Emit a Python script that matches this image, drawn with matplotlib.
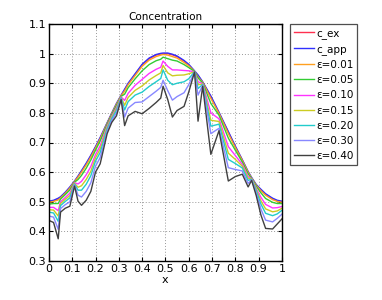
import matplotlib
matplotlib.use("Agg")
import matplotlib.pyplot as plt

x = [0.00, 0.02, 0.04, 0.05, 0.07, 0.09, 0.11, 0.125, 0.14, 0.16, 0.18, 0.20, 0.22, 0.25, 0.27,
     0.29, 0.31, 0.325, 0.34, 0.37, 0.40, 0.43, 0.46, 0.48, 0.49, 0.51, 0.53, 0.55, 0.58, 0.60,
     0.625, 0.64, 0.66, 0.695, 0.73, 0.77, 0.80, 0.83, 0.855, 0.87, 0.89, 0.91, 0.93, 0.96, 0.98, 1.00]

c_ex = [0.500, 0.503, 0.510, 0.515, 0.530, 0.548, 0.568, 0.585, 0.603, 0.628, 0.655, 0.684, 0.715, 0.765, 0.798,
        0.830, 0.858, 0.878, 0.898, 0.930, 0.962, 0.983, 0.995, 0.999, 1.000, 1.000, 0.996, 0.990, 0.975, 0.962,
        0.940, 0.926, 0.903, 0.855, 0.800, 0.735, 0.686, 0.640, 0.600, 0.580, 0.556, 0.540, 0.525, 0.510, 0.503, 0.500]
c_app = [0.502, 0.505, 0.512, 0.517, 0.532, 0.550, 0.570, 0.587, 0.605, 0.630, 0.657, 0.686, 0.717, 0.767, 0.800,
         0.832, 0.860, 0.880, 0.900, 0.932, 0.964, 0.985, 0.997, 1.001, 1.002, 1.002, 0.998, 0.992, 0.977, 0.964,
         0.942, 0.928, 0.905, 0.857, 0.802, 0.737, 0.688, 0.642, 0.602, 0.582, 0.558, 0.542, 0.527, 0.512, 0.505, 0.502]
e001 = [0.498, 0.501, 0.506, 0.513, 0.528, 0.546, 0.568, 0.583, 0.600, 0.624, 0.651, 0.681, 0.712, 0.764, 0.797,
        0.829, 0.858, 0.874, 0.895, 0.926, 0.957, 0.978, 0.990, 0.995, 0.997, 0.995, 0.990, 0.985, 0.970, 0.959,
        0.940, 0.921, 0.903, 0.849, 0.798, 0.730, 0.683, 0.639, 0.599, 0.580, 0.555, 0.537, 0.522, 0.507, 0.501, 0.498]
e005 = [0.492, 0.494, 0.494, 0.509, 0.524, 0.540, 0.566, 0.575, 0.589, 0.613, 0.641, 0.674, 0.705, 0.761, 0.794,
        0.825, 0.856, 0.863, 0.885, 0.915, 0.942, 0.963, 0.976, 0.981, 0.988, 0.983, 0.978, 0.975, 0.963, 0.953,
        0.940, 0.918, 0.901, 0.832, 0.792, 0.715, 0.674, 0.634, 0.594, 0.579, 0.552, 0.530, 0.511, 0.498, 0.494, 0.494]
e010 = [0.481, 0.481, 0.470, 0.500, 0.514, 0.529, 0.564, 0.560, 0.569, 0.591, 0.619, 0.659, 0.689, 0.755, 0.789,
        0.818, 0.854, 0.842, 0.866, 0.893, 0.913, 0.933, 0.947, 0.954, 0.975, 0.957, 0.945, 0.945, 0.943, 0.942,
        0.939, 0.905, 0.899, 0.800, 0.780, 0.686, 0.656, 0.626, 0.585, 0.578, 0.545, 0.515, 0.491, 0.479, 0.480, 0.484]
e015 = [0.473, 0.472, 0.452, 0.494, 0.508, 0.521, 0.562, 0.549, 0.554, 0.575, 0.603, 0.648, 0.678, 0.750, 0.785,
        0.813, 0.852, 0.826, 0.852, 0.876, 0.891, 0.911, 0.926, 0.935, 0.960, 0.935, 0.925, 0.927, 0.928, 0.932,
        0.939, 0.895, 0.897, 0.775, 0.771, 0.664, 0.643, 0.620, 0.579, 0.577, 0.541, 0.503, 0.476, 0.466, 0.469, 0.478]
e020 = [0.465, 0.462, 0.434, 0.487, 0.501, 0.513, 0.560, 0.539, 0.539, 0.559, 0.588, 0.637, 0.666, 0.745, 0.781,
        0.808, 0.851, 0.810, 0.838, 0.860, 0.870, 0.889, 0.905, 0.916, 0.945, 0.910, 0.895, 0.900, 0.905, 0.915,
        0.939, 0.882, 0.896, 0.755, 0.762, 0.643, 0.629, 0.614, 0.572, 0.576, 0.536, 0.492, 0.461, 0.453, 0.459, 0.471]
e030 = [0.452, 0.448, 0.407, 0.477, 0.490, 0.500, 0.557, 0.522, 0.516, 0.535, 0.564, 0.620, 0.649, 0.738, 0.775,
        0.800, 0.848, 0.786, 0.816, 0.835, 0.837, 0.855, 0.873, 0.886, 0.910, 0.875, 0.843, 0.855, 0.868, 0.895,
        0.938, 0.860, 0.893, 0.730, 0.748, 0.615, 0.609, 0.604, 0.562, 0.574, 0.529, 0.475, 0.438, 0.432, 0.444, 0.458]
e040 = [0.437, 0.430, 0.375, 0.465, 0.478, 0.485, 0.553, 0.502, 0.488, 0.505, 0.535, 0.600, 0.628, 0.730, 0.768,
        0.790, 0.845, 0.757, 0.790, 0.805, 0.797, 0.815, 0.835, 0.850, 0.890, 0.845, 0.786, 0.808, 0.822, 0.870,
        0.938, 0.772, 0.890, 0.660, 0.740, 0.570, 0.585, 0.593, 0.550, 0.572, 0.520, 0.455, 0.410, 0.408, 0.425, 0.442]

labels = ["c_ex", "c_app", "ε=0.01", "ε=0.05", "ε=0.10", "ε=0.15", "ε=0.20", "ε=0.30", "ε=0.40"]
series = [c_ex, c_app, e001, e005, e010, e015, e020, e030, e040]
colors = ["#ff3050", "#3030ff", "#ffa020", "#33cc33", "#ff33ff", "#cccc22", "#22cccc", "#8888ff", "#404040"]

xticks = [0, 0.1, 0.2, 0.3, 0.4, 0.5, 0.6, 0.7, 0.8, 0.9, 1]
xticklabels = ["0", "0.1", "0.2", "0.3", "0.4", "0.5", "0.6", "0.7", "0.8", "0.9", "1"]
yticks = [0.3, 0.4, 0.5, 0.6, 0.7, 0.8, 0.9, 1.0, 1.1]
yticklabels = ["0.3", "0.4", "0.5", "0.6", "0.7", "0.8", "0.9", "1", "1.1"]

plt.rcParams['font.family'] = ['DejaVu Sans']
fig = plt.figure(figsize=(3.82, 3.0), dpi=100)
ax = fig.add_axes([0.128, 0.13, 0.61, 0.79])

for s, lab, col in zip(series, labels, colors):
    ax.plot(x, s, color=col, lw=1.0, label=lab)

ax.set_xlim(0, 1)
ax.set_ylim(0.3, 1.1)
ax.set_xticks(xticks)
ax.set_xticklabels(xticklabels)
ax.set_yticks(yticks)
ax.set_yticklabels(yticklabels)
ax.tick_params(direction='in', top=True, right=True, length=3, width=0.8, labelsize=8, pad=2)
ax.grid(True, linestyle=(0, (1, 2)), color='#999999', lw=0.7)
for sp in ax.spines.values():
    sp.set_linewidth(1.0)
ax.set_title("Concentration", fontsize=7.5, pad=3)
ax.set_xlabel("x", fontsize=8, labelpad=1)

leg = ax.legend(loc='upper left', bbox_to_anchor=(1.035, 1.0), fontsize=7.5, frameon=True,
                fancybox=False, edgecolor='#222222', handlelength=1.9, handletextpad=0.25,
                labelspacing=0.5, borderpad=0.35, borderaxespad=0)
leg.get_frame().set_linewidth(0.9)

fig.savefig("out.png", dpi=100)
